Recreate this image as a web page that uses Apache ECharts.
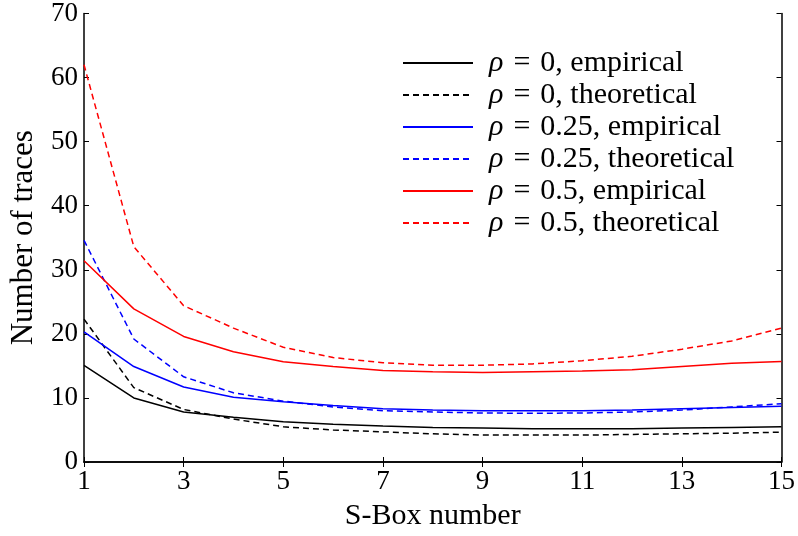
<!DOCTYPE html>
<html><head><meta charset="utf-8">
<script src="https://cdn.jsdelivr.net/npm/echarts@6/dist/echarts.min.js"></script>
<style>html,body{margin:0;padding:0;background:#fff}#c{width:798px;height:536px}</style>
</head><body><div id="c"></div>
<script>
const categories = ['1','2','3','4','5','6','7','8','9','10','11','12','13','14','15'];
const rho0Emp   = [15.1, 10.0, 7.8, 7.0, 6.3, 5.9, 5.6, 5.4, 5.3, 5.2, 5.2, 5.2, 5.3, 5.4, 5.5];
const rho0Theo  = [22.3, 11.6, 8.2, 6.7, 5.5, 5.0, 4.7, 4.4, 4.2, 4.2, 4.2, 4.3, 4.4, 4.5, 4.65];
const rho25Emp  = [20.3, 14.9, 11.7, 10.1, 9.4, 8.8, 8.3, 8.1, 8.0, 8.0, 8.0, 8.1, 8.3, 8.5, 8.7];
const rho25Theo = [34.6, 19.2, 13.3, 10.8, 9.5, 8.6, 8.0, 7.8, 7.65, 7.6, 7.65, 7.8, 8.1, 8.6, 9.1];
const rho5Emp   = [31.4, 23.9, 19.6, 17.2, 15.65, 14.9, 14.3, 14.1, 13.95, 14.1, 14.2, 14.4, 14.9, 15.4, 15.7];
const rho5Theo  = [62.0, 33.6, 24.4, 20.9, 17.9, 16.3, 15.5, 15.1, 15.1, 15.3, 15.8, 16.5, 17.6, 18.9, 20.9];
const seriesNames = ['ρ = 0, empirical','ρ = 0, theoretical','ρ = 0.25, empirical','ρ = 0.25, theoretical','ρ = 0.5, empirical','ρ = 0.5, theoretical'];
const yTicks = [0, 70, 10];

const FONT = '"Liberation Serif", "Times New Roman", serif';
const chart = echarts.init(document.getElementById('c'));
function mk(name, data, color, dashed){
  return {name, type:'line', data, symbol:'none', smooth:false, animation:false,
    lineStyle:{color, width:1.5, type: dashed ? [6,4] : 'solid'}, itemStyle:{color}};
}
const axisCommon = {
  axisLine:{show:true, lineStyle:{color:'#000', width:1.5}},
  axisTick:{show:true, inside:true, length:5, lineStyle:{color:'#000', width:1}},
  splitLine:{show:false}
};
chart.setOption({
  animation:false,
  grid:{left:83, right:14, top:13, bottom:71},
  legend:{
    orient:'vertical', left:397, top:43, itemWidth:70, itemHeight:14, itemGap:2,
    data: seriesNames,
    itemStyle:{opacity:0},
    formatter: n => { const p = n.split('ρ'); return '{s| }{i|ρ}' + p[1].replace(/ = /, '\u2004=\u2004'); },
    textStyle:{fontFamily:FONT, fontSize:30, lineHeight:29, color:'#000',
      rich:{
        i:{fontFamily:FONT, fontStyle:'italic', fontSize:30, lineHeight:29, color:'#000'},
        s:{fontFamily:FONT, fontSize:30, lineHeight:29, width:11}
      }}
  },
  xAxis:[
    Object.assign({type:'category', data:categories, boundaryGap:false, position:'bottom',
      name:'S-Box number', nameLocation:'middle', nameGap:39,
      nameTextStyle:{fontFamily:FONT, fontSize:30, color:'#000'},
      axisLabel:{interval:1, fontFamily:FONT, fontSize:27, color:'#000', margin:6}}, axisCommon,
      {axisTick:Object.assign({}, axisCommon.axisTick, {interval:1})}),
    Object.assign({type:'category', data:categories, boundaryGap:false, position:'top',
      axisLabel:{show:false}}, axisCommon,
      {axisTick:Object.assign({}, axisCommon.axisTick, {interval:1})})
  ],
  yAxis:[
    Object.assign({type:'value', min:yTicks[0], max:yTicks[1], interval:yTicks[2], position:'left',
      name:'Number of traces', nameLocation:'middle', nameGap:45,
      nameTextStyle:{fontFamily:FONT, fontSize:31, color:'#000'},
      axisLabel:{fontFamily:FONT, fontSize:27, color:'#000', margin:6}}, axisCommon),
    Object.assign({type:'value', min:yTicks[0], max:yTicks[1], interval:yTicks[2], position:'right',
      axisLabel:{show:false}}, axisCommon)
  ],
  series:[
    mk(seriesNames[0], rho0Emp, '#000000', false),
    mk(seriesNames[1], rho0Theo, '#000000', true),
    mk(seriesNames[2], rho25Emp, '#0000ff', false),
    mk(seriesNames[3], rho25Theo, '#0000ff', true),
    mk(seriesNames[4], rho5Emp, '#ff0000', false),
    mk(seriesNames[5], rho5Theo, '#ff0000', true)
  ]
});
</script></body></html>
